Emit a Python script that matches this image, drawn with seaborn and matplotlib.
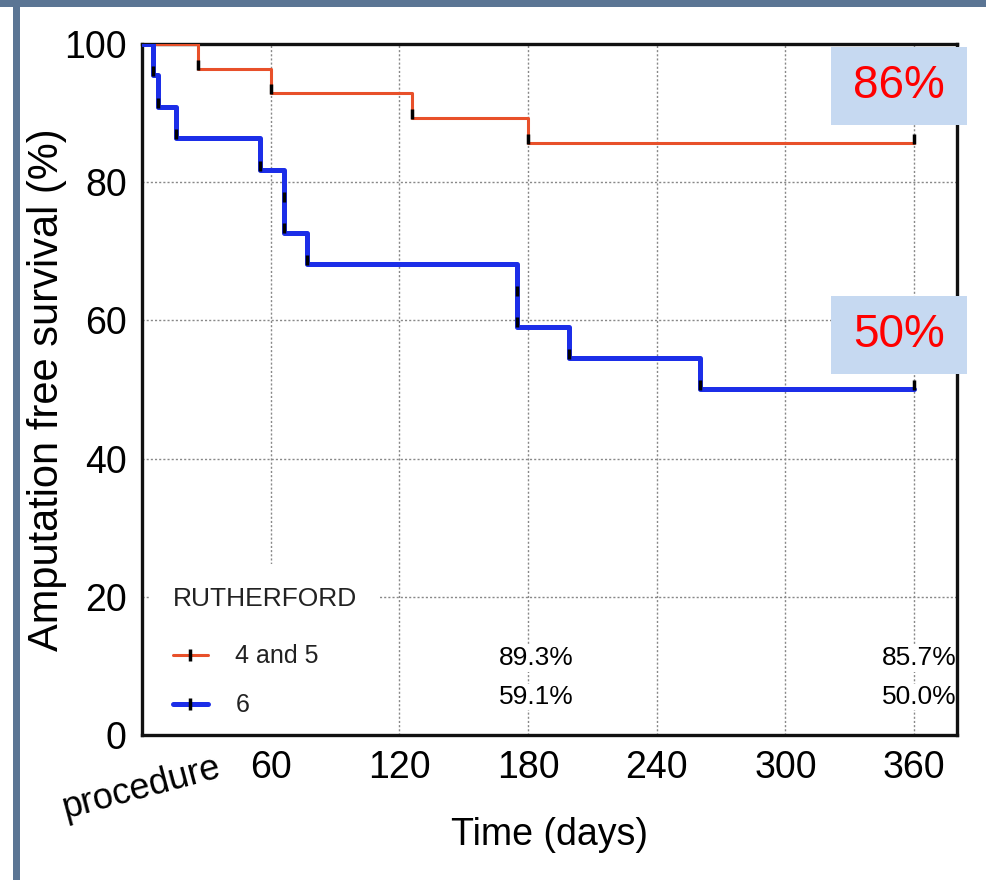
import seaborn as sns
import matplotlib.pyplot as plt
import pandas as pd
from matplotlib.lines import Line2D
from matplotlib.patches import Rectangle

# Kaplan-Meier steps (days, survival %)
red_time = [0, 26, 60, 126, 180, 360]
red_surv = [100, 96.4, 92.9, 89.3, 85.7, 85.7]
blue_time = [0, 5, 7.5, 16, 55, 66, 77, 175, 199, 260, 360]
blue_surv = [100, 95.5, 90.9, 86.4, 81.8, 72.7, 68.2, 59.1, 54.5, 50.0, 50.0]

# censor ticks
red_cens_t = [26, 60, 126, 180, 360]
red_cens_s = [96.4, 92.9, 89.3, 85.7, 85.7]
blue_cens_t = [5, 7.5, 16, 55, 66, 66, 77, 175, 175, 199, 260, 360]
blue_cens_s = [95.5, 90.9, 86.4, 81.8, 77.3, 72.7, 68.2, 63.6, 59.1, 54.5, 50.0, 50.0]

groups = ["4 and 5", "6"]
pct_180 = ["89.3%", "59.1%"]
pct_360 = ["85.7%", "50.0%"]
box_labels = ["86%", "50%"]

xticks = [0, 60, 120, 180, 240, 300, 360]
xticklabels = ["procedure", "60", "120", "180", "240", "300", "360"]
yticks = [0, 20, 40, 60, 80, 100]

red = "#e8502a"
blue = "#1c2ee8"

sns.set_style("white")
plt.rcParams['font.family'] = ['Liberation Sans', 'DejaVu Sans']
plt.rcParams['text.color'] = "black"
plt.rcParams['axes.labelcolor'] = "black"

fig = plt.figure(figsize=(9.87, 8.8), dpi=100)
ax = fig.add_axes([0.1439, 0.1648, 0.9696 - 0.1439, 0.95 - 0.1648])

df_red = pd.DataFrame({"time": red_time, "surv": red_surv})
df_blue = pd.DataFrame({"time": blue_time, "surv": blue_surv})
sns.lineplot(data=df_red, x="time", y="surv", drawstyle="steps-post", color=red, lw=2.2, ax=ax, zorder=9)
sns.lineplot(data=df_blue, x="time", y="surv", drawstyle="steps-post", color=blue, lw=3.6, ax=ax, zorder=9)
sns.scatterplot(x=red_cens_t, y=[s + 0.6 for s in red_cens_s], marker="|", color="black", s=60, linewidth=2.5, ax=ax, zorder=10)
sns.scatterplot(x=blue_cens_t, y=[s + 0.6 for s in blue_cens_s], marker="|", color="black", s=60, linewidth=2.5, ax=ax, zorder=10)

ax.set_xlim(0, 380)
ax.set_ylim(0, 100)
ax.set_xticks(xticks)
ax.set_xticklabels(xticklabels)
ax.set_yticks(yticks)
ax.tick_params(axis="both", direction="out", length=8, width=2.2, labelsize=27, colors="black", pad=3)
lab0 = ax.get_xticklabels()[0]
lab0.set_rotation(15)
lab0.set_fontsize(26)

ax.grid(True, linestyle=(0, (1.5, 1.5)), color="#888888", lw=1.0)
for sp in ax.spines.values():
    sp.set_color("#111111")
    sp.set_linewidth(2.4)
    sp.set_visible(True)
    sp.set_zorder(8)

ax.set_xlabel("Time (days)", fontsize=27)
ax.set_ylabel("Amputation free survival (%)", fontsize=30)
ax.xaxis.set_label_coords(0.5, -0.118)
ax.yaxis.set_label_coords(-0.092, 0.5)

# percent labels
for i in range(2):
    yy = 11.1 - 5.6 * i
    ax.text(184, yy, pct_180[i], fontsize=19, ha="center", va="center", zorder=5,
            bbox=dict(facecolor="white", edgecolor="none", pad=1))
    ax.text(380, yy, pct_360[i], fontsize=19, ha="right", va="center", zorder=5,
            bbox=dict(facecolor="white", edgecolor="none", pad=1))

handles = [Line2D([0], [0], color=red, lw=2.2, marker="|", markeredgecolor="black", markersize=9, markeredgewidth=2.5),
           Line2D([0], [0], color=blue, lw=3.6, marker="|", markeredgecolor="black", markersize=9, markeredgewidth=2.5)]
leg = ax.legend(handles, groups, title="RUTHERFORD", loc="lower left", bbox_to_anchor=(-0.005, -0.025),
                fontsize=18, title_fontsize=19, frameon=True, facecolor="white", edgecolor="none",
                framealpha=1, handlelength=1.4, borderpad=0.9, labelspacing=1.0, handletextpad=1.1)
leg._legend_box.align = "left"
leg._legend_box.sep = 24
leg.set_zorder(6)
for t in leg.get_texts():
    t.set_color("#222222")
leg.get_title().set_color("#222222")

# boxed summary labels in figure coords
for i, yc in enumerate([86 / 880, 335 / 880]):
    fig.patches.append(Rectangle((831 / 987, 1 - yc - 39 / 880), 136 / 987, 78 / 880,
                                 transform=fig.transFigure, facecolor="#c6d9f1", edgecolor="none", zorder=10))
    fig.text(899 / 987, 1 - yc, box_labels[i], color="#ff0000", fontsize=33, ha="center", va="center",
             zorder=11)

# slate frame edges
fig.patches.append(Rectangle((0, 1 - 7 / 880), 1, 7 / 880, transform=fig.transFigure,
                             facecolor="#5b7594", edgecolor="none", zorder=12))
fig.patches.append(Rectangle((13 / 987, 0), 7 / 987, 1, transform=fig.transFigure,
                             facecolor="#5b7594", edgecolor="none", zorder=12))

fig.savefig("out.png", dpi=100)
